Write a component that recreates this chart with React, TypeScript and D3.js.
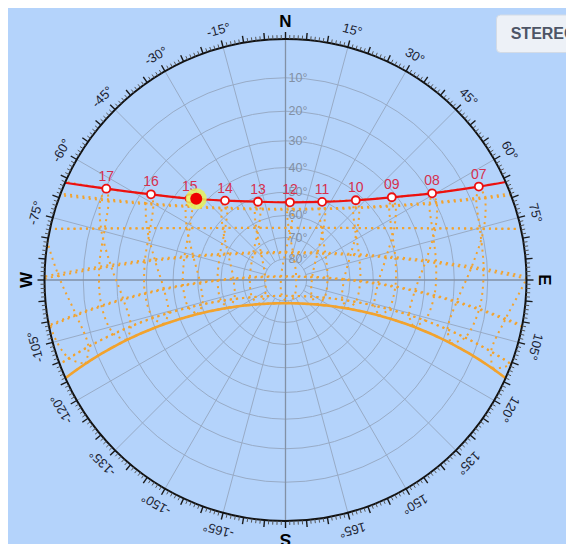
import React from "react";
import * as d3 from "d3";

// ---------- layout ----------
const PAGE_W = 566;
const PAGE_H = 544;
const OFFSET = 8;
const WIDTH = PAGE_W - OFFSET;
const HEIGHT = PAGE_H - OFFSET;
const CX = 277.5;
const CY = 272;
const R = 241;
const FONT = "'Liberation Sans', Arial, sans-serif";

// ---------- site / clock ----------
const LATITUDE = -12.44;
const CLOCK_OFFSET_MIN = -6.9;

// ---------- monthly date lines (21st of each month) ----------
const monthNames = ["Jan", "Feb", "Mar", "Apr", "May", "Jun", "Jul", "Aug", "Sep", "Oct", "Nov", "Dec"];
const monthDecl = [-20.0, -10.6, 0.3, 11.9, 20.1, 23.44, 20.5, 12.0, 0.8, -10.9, -19.9, -23.44];
const monthEoT = [-11.1, -13.6, -7.4, 1.1, 3.5, -1.7, -6.3, -3.4, 6.9, 15.4, 14.0, 1.9];
const branchA = [11, 0, 1, 2, 3, 4, 5];
const branchB = [5, 6, 7, 8, 9, 10, 11];
const gridHours = [5, 6, 7, 8, 9, 10, 11, 12, 13, 14, 15, 16, 17, 18, 19];
const solidDateDecl = -23.44;

// ---------- current day path ----------
const pathHourLabels = ["07", "08", "09", "10", "11", "12", "13", "14", "15", "16", "17"];
const pathHourAz = [64.2, 59.4, 52.1, 41.4, 25.1, 3.3, -19.4, -37.3, -49.6, -57.5, -63.0];
const pathHourAlt = [6.6, 19.5, 31.6, 42.4, 50.6, 54.2, 52.0, 45.0, 34.9, 23.0, 10.3];
const sunriseAz = 66.0;
const sunsetAz = -66.2;
const sunNowAz = -47.7;
const sunNowAlt = 36.8;

// ---------- axes ----------
const altitudeRings = [10, 20, 30, 40, 50, 60, 70, 80];
const azimuthGrid = d3.range(0, 360, 15);
const azimuthLabels = [15, 30, 45, 60, 75, 105, 120, 135, 150, 165, -15, -30, -45, -60, -75, -105, -120, -135, -150, -165];
const compassLabels = ["N", "E", "S", "W"];
const compassAz = [0, 90, 180, -90];

const RAD = Math.PI / 180;
const zScale = d3.scaleLinear().domain([0, 1]).range([0, R]);

function project(az: number, alt: number): [number, number] {
  const rr = zScale(Math.tan(((90 - alt) * RAD) / 2));
  return [CX + rr * Math.sin(az * RAD), CY - rr * Math.cos(az * RAD)];
}

function sunPos(decl: number, hourAngle: number) {
  const d = decl * RAD, h = hourAngle * RAD, p = LATITUDE * RAD;
  const east = -Math.cos(d) * Math.sin(h);
  const north = Math.cos(p) * Math.sin(d) - Math.sin(p) * Math.cos(d) * Math.cos(h);
  const up = Math.sin(p) * Math.sin(d) + Math.cos(p) * Math.cos(d) * Math.cos(h);
  return { az: Math.atan2(east, north) / RAD, alt: Math.asin(Math.max(-1, Math.min(1, up))) / RAD };
}

const lineGen = d3.line<[number, number]>();
const curveGen = d3.line<[number, number]>().curve(d3.curveCatmullRom);

function dateLinePaths(decl: number): string[] {
  const segs: [number, number][][] = [];
  let cur: [number, number][] = [];
  for (let H = -180; H <= 180; H += 1) {
    const s = sunPos(decl, H);
    if (s.alt > -25) cur.push(project(s.az, s.alt));
    else if (cur.length) { segs.push(cur); cur = []; }
  }
  if (cur.length) segs.push(cur);
  return segs.filter((s) => s.length > 1).map((s) => lineGen(s) as string);
}

function hourLinePath(hour: number, months: number[]): string | null {
  const pts = months.map((m) => {
    const H = 15 * (hour + (monthEoT[m] + CLOCK_OFFSET_MIN) / 60 - 12);
    return sunPos(monthDecl[m], H);
  });
  if (pts.every((p) => p.alt < 0)) return null;
  return curveGen(pts.map((p) => project(p.az, Math.max(p.alt, -40)))) as string;
}

export default function App() {
  const gridStroke = "#98abc6";
  const orange = "#f2a32e";
  const red = "#ec1010";

  const dotted: string[] = [];
  monthDecl.forEach((d) => dotted.push(...dateLinePaths(d)));
  gridHours.forEach((h) => {
    const a = hourLinePath(h, branchA);
    const b = hourLinePath(h, branchB);
    if (a) dotted.push(a);
    if (b) dotted.push(b);
  });

  const pathPts: [number, number][] = [
    project(sunriseAz, 0),
    ...pathHourAz.map((az, i) => project(az, pathHourAlt[i])),
    project(sunsetAz, 0),
  ];
  const sunNow = project(sunNowAz, sunNowAlt);
  const ticks = d3.range(0, 360, 1);

  return (
    <svg
      width={PAGE_W}
      height={PAGE_H}
      style={{ display: "block", position: "fixed", left: 0, top: 0, fontFamily: FONT }}
    >
      <defs>
        <clipPath id="sky">
          <circle cx={CX} cy={CY} r={R} />
        </clipPath>
      </defs>
      <rect x={0} y={0} width={PAGE_W} height={PAGE_H} fill="#ffffff" />
      <g transform={`translate(${OFFSET},${OFFSET})`}>
        <rect x={0} y={0} width={WIDTH} height={HEIGHT} fill="#b4d3fb" />

        {/* grid */}
        <g fill="none" stroke={gridStroke} strokeWidth={1}>
          {altitudeRings.map((a) => (
            <circle key={a} cx={CX} cy={CY} r={zScale(Math.tan(((90 - a) * RAD) / 2))} />
          ))}
          {azimuthGrid.filter((a) => a % 90 !== 0).map((a) => {
            const p0 = project(a, 80);
            const p1 = project(a, 0);
            return <line key={a} x1={p0[0]} y1={p0[1]} x2={p1[0]} y2={p1[1]} />;
          })}
        </g>
        <g stroke="#8291a6" strokeWidth={1.3}>
          <line x1={CX - R} y1={CY} x2={CX + R} y2={CY} />
          <line x1={CX} y1={CY - R} x2={CX} y2={CY + R} />
        </g>
        {altitudeRings.map((a) => (
          <text
            key={a}
            x={CX + 3}
            y={CY - zScale(Math.tan(((90 - a) * RAD) / 2))}
            fontSize={12.5}
            fill="#8290a4"
            dominantBaseline="central"
          >
            {a}°
          </text>
        ))}

        {/* analemma grid */}
        <g clipPath="url(#sky)" fill="none">
          {dotted.map((d, i) => (
            <path key={i} d={d} stroke={orange} strokeWidth={2} strokeDasharray="2 4.2" />
          ))}
          {dateLinePaths(solidDateDecl).map((d, i) => (
            <path key={"s" + i} d={d} stroke={orange} strokeWidth={2.6} />
          ))}
        </g>

        {/* current day path */}
        <path d={curveGen(pathPts) as string} fill="none" stroke={red} strokeWidth={2.2} />
        {pathHourAz.map((az, i) => {
          const p = project(az, pathHourAlt[i]);
          return (
            <g key={i}>
              <circle cx={p[0]} cy={p[1]} r={4} fill="#fff" stroke={red} strokeWidth={1.8} />
              <text x={p[0]} y={p[1] - 8} textAnchor="middle" fontSize={14} fill="#d6304e">
                {pathHourLabels[i]}
              </text>
            </g>
          );
        })}
        <circle cx={sunNow[0]} cy={sunNow[1]} r={10.5} fill="#e8f05a" opacity={0.85} />
        <circle cx={sunNow[0]} cy={sunNow[1]} r={6} fill="#ee0000" />

        {/* outer ring & ticks */}
        <circle cx={CX} cy={CY} r={R} fill="none" stroke="#111" strokeWidth={2} />
        {ticks.map((t) => {
          const len = t % 5 === 0 ? 7 : 4;
          const s = Math.sin(t * RAD), c = Math.cos(t * RAD);
          return (
            <line
              key={t}
              x1={CX + R * s}
              y1={CY - R * c}
              x2={CX + (R + len) * s}
              y2={CY - (R + len) * c}
              stroke={t % 5 === 0 ? "#1a1a1a" : "#555"}
              strokeWidth={t % 5 === 0 ? 1.4 : 1}
            />
          );
        })}
        {azimuthLabels.map((a) => {
          const x = CX + 259 * Math.sin(a * RAD);
          const y = CY - 259 * Math.cos(a * RAD);
          return (
            <text
              key={a}
              x={x}
              y={y}
              fontSize={13}
              fill="#1c2433"
              textAnchor="middle"
              dominantBaseline="central"
              transform={`rotate(${a},${x},${y})`}
            >
              {a}°
            </text>
          );
        })}
        {compassLabels.map((l, i) => {
          const a = compassAz[i];
          const x = CX + 259 * Math.sin(a * RAD);
          const y = CY - 259 * Math.cos(a * RAD);
          return (
            <text
              key={l}
              x={x}
              y={y}
              fontSize={17}
              fontWeight="bold"
              fill="#000"
              textAnchor="middle"
              dominantBaseline="central"
              transform={`rotate(${a},${x},${y})`}
            >
              {l}
            </text>
          );
        })}

        {/* projection button */}
        <rect x={488.5} y={7} width={90} height={37.5} rx={4} fill="#edf1f7" stroke="#d3dbe6" />
        <text x={502.7} y={31.3} fontSize={16} fontWeight="bold" fill="#4d5566">
          STEREOGRAPHIC
        </text>
      </g>
    </svg>
  );
}
